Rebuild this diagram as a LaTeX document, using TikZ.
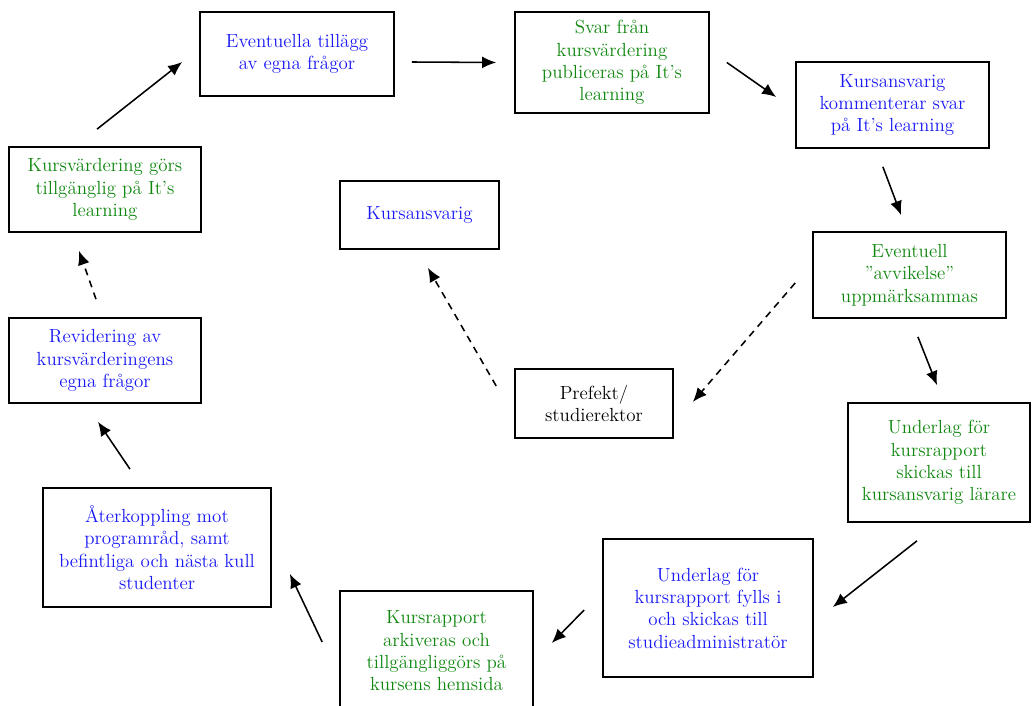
\documentclass[tikz,border=0pt]{standalone}
\usepackage{tikz}
\usetikzlibrary{arrows.meta}

\definecolor{evalblue}{RGB}{25,25,245}
\definecolor{evalgreen}{RGB}{15,135,15}

\tikzset{
        box/.style={draw, line width=1.2pt, align=center, inner sep=0pt,
                font=\fontsize{13.5}{15.9}\selectfont},
        flow/.style={->, line width=1.1pt},
        maybe/.style={flow, dash pattern=on 5pt off 4pt}
}

\begin{document}
\begin{tikzpicture}[>={Latex[length=10pt,width=8.5pt]}]
        \useasboundingbox (0, 0) rectangle (25.8, -17.65);

        \node[box, text=evalblue, minimum width=4.85cm, minimum height=2.1cm] (tillagg) at (7.425, -1.35) {Eventuella tillägg\\av egna frågor};
        \node[box, text=evalgreen, minimum width=4.85cm, minimum height=2.525cm] (svar) at (15.3, -1.5625) {Svar från\\kursvärdering\\publiceras på It’s\\learning};
        \node[box, text=evalblue, minimum width=4.825cm, minimum height=2.15cm] (kommentar) at (22.3125, -2.625) {Kursansvarig\\kommenterar svar\\på It’s learning};
        \node[box, text=evalgreen, minimum width=4.825cm, minimum height=2.15cm] (avvikelse) at (22.7375, -6.875) {Eventuell\\”avvikelse”\\uppmärksammas};
        \node[box, text=evalgreen, minimum width=4.55cm, minimum height=2.975cm] (underlag) at (23.475, -11.5625) {Underlag för\\kursrapport\\skickas till\\kursansvarig lärare};
        \node[box, text=evalblue, minimum width=5.25cm, minimum height=3.45cm] (ifyllning) at (17.7, -15.2) {Underlag för\\kursrapport fylls i\\och skickas till\\studieadministratör};
        \node[box, text=evalgreen, minimum width=4.825cm, minimum height=3cm] (arkiv) at (10.9125, -16.275) {Kursrapport\\arkiveras och\\tillgängliggörs på\\kursens hemsida};
        \node[box, text=evalblue, minimum width=5.7cm, minimum height=2.975cm] (aterkoppling) at (3.925, -13.6875) {Återkoppling mot\\programråd, samt\\befintliga och nästa kull\\studenter};
        \node[box, text=evalblue, minimum width=4.8cm, minimum height=2.125cm] (revidering) at (2.625, -9.0125) {Revidering av\\kursvärderingens\\egna frågor};
        \node[box, text=evalgreen, minimum width=4.8cm, minimum height=2.125cm] (tillganglig) at (2.625, -4.7375) {Kursvärdering görs\\tillgänglig på It’s\\learning};
        \node[box, text=evalblue, minimum width=3.975cm, minimum height=1.7cm] (kursansvarig) at (10.4875, -5.375) {Kursansvarig};
        \node[box, minimum width=3.95cm, minimum height=1.725cm] (prefekt) at (14.85, -10.0875) {Prefekt/\\studierektor};

        \draw[flow] ([shift={(-0.2, 0.425)}]tillganglig.north) -- ([shift={(-0.425, -0.2)}]tillagg.west);
        \draw[flow] ([shift={(0.425, -0.2)}]tillagg.east) -- ([xshift=-0.45cm]svar.west);
        \draw[flow] ([xshift=0.425cm]svar.east) -- ([shift={(-0.475, 0.2)}]kommentar.west);
        \draw[flow] ([shift={(-0.24, -0.45)}]kommentar.south) -- ([shift={(-0.21, 0.4)}]avvikelse.north);
        \draw[maybe] ([shift={(-0.425, -0.2)}]avvikelse.west) -- ([shift={(0.475, 0.04)}]prefekt.east);
        \draw[flow] ([shift={(0.21, -0.45)}]avvikelse.south) -- ([shift={(-0.05, 0.425)}]underlag.north);
        \draw[maybe] ([shift={(-0.45, 0.44)}]prefekt.west) -- ([shift={(0.21, -0.45)}]kursansvarig.south);
        \draw[flow] ([shift={(-0.55, -0.45)}]underlag.south) -- ([shift={(0.475, 0.025)}]ifyllning.east);
        \draw[flow] ([shift={(-0.45, -0.05)}]ifyllning.west) -- ([shift={(0.45, 0.2)}]arkiv.east);
        \draw[flow] ([shift={(-0.425, 0.225)}]arkiv.west) -- ([shift={(0.45, -0.66)}]aterkoppling.east);
        \draw[flow] ([shift={(-0.675, 0.45)}]aterkoppling.north) -- ([shift={(-0.175, -0.45)}]revidering.south);
        \draw[maybe] ([shift={(-0.225, 0.45)}]revidering.north) -- ([shift={(-0.65, -0.45)}]tillganglig.south);
\end{tikzpicture}
\end{document}
